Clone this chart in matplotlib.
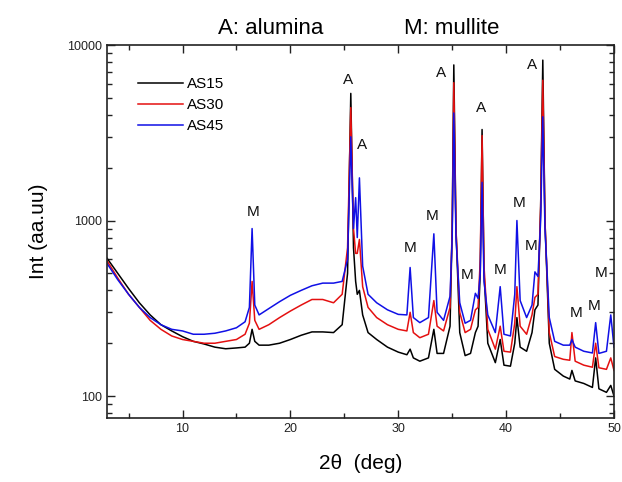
import matplotlib
matplotlib.use("Agg")
import matplotlib.pyplot as plt
from matplotlib.ticker import MultipleLocator, LogLocator, FixedLocator, FixedFormatter, NullFormatter

plt.rcParams['font.family'] = ['Liberation Sans', 'DejaVu Sans']

# 2-theta sampling positions (deg)
two_theta = [3.0, 4, 5, 6, 7, 8, 9, 10, 11, 12, 13, 14, 15, 15.8, 16.2, 16.45, 16.7, 17.1,
             18, 19, 20, 21, 22, 23, 24, 24.8, 25.3, 25.6, 25.85, 26.05, 26.2, 26.4, 26.7,
             27.2, 28, 29, 30, 30.8, 31.1, 31.4, 32, 32.8, 33.3, 33.6, 34.2, 34.8, 35.0,
             35.15, 35.35, 35.7, 36.2, 36.7, 37.15, 37.4, 37.6, 37.77, 37.95, 38.3, 39.0,
             39.45, 39.8, 40.4, 40.8, 41.0, 41.3, 41.9, 42.4, 42.67, 42.95, 43.2, 43.4,
             43.6, 44.0, 44.5, 45.3, 45.9, 46.1, 46.4, 47.2, 48.0, 48.3, 48.6, 49.3, 49.7, 50.0]

as15 = [610, 500, 410, 340, 290, 255, 235, 218, 205, 198, 190, 186, 188, 190, 200, 240, 205, 195,
        195, 200, 210, 222, 232, 232, 230, 255, 500, 5300, 700, 450, 380, 400, 290,
        230, 210, 190, 178, 172, 185, 165, 158, 165, 240, 175, 175, 250, 900,
        7700, 900, 230, 170, 175, 230, 250, 500, 3300, 500, 200, 155,
        210, 150, 148, 200, 280, 190, 180, 230, 310, 330, 1200, 8200,
        1000, 200, 142, 130, 125, 140, 122, 118, 112, 165, 110, 105, 115, 100]

as30 = [590, 470, 380, 320, 270, 240, 220, 210, 205, 200, 200, 205, 210, 225, 260, 450, 270, 240,
        255, 280, 305, 330, 355, 355, 340, 380, 700, 4400, 900, 650, 650, 780, 420,
        320, 280, 255, 240, 235, 300, 230, 215, 225, 350, 250, 235, 320, 900,
        6100, 900, 300, 230, 240, 310, 320, 600, 3050, 550, 240, 185,
        250, 180, 178, 260, 420, 250, 225, 290, 365, 380, 1200, 6300,
        1000, 230, 168, 162, 160, 230, 158, 150, 146, 200, 145, 142, 165, 140]

as45 = [570, 460, 380, 320, 280, 255, 240, 235, 225, 225, 228, 235, 245, 265, 320, 900, 330, 290,
        315, 345, 375, 400, 425, 440, 440, 450, 600, 3000, 900, 1350, 800, 1750, 550,
        380, 340, 310, 292, 290, 540, 280, 262, 280, 840, 300, 270, 370, 800,
        4100, 800, 340, 260, 270, 385, 360, 500, 1650, 450, 290, 230,
        420, 225, 220, 380, 1000, 350, 280, 330, 510, 480, 1000, 3900,
        900, 280, 205, 195, 195, 210, 190, 180, 176, 262, 175, 180, 290, 190]

series_names = ["AS15", "AS30", "AS45"]
series_colors = ["black", "#e41010", "#1010e6"]

# peak labels: (letter, 2theta, intensity)
label_text = ["A", "A", "A", "A", "A", "M", "M", "M", "M", "M", "M", "M", "M", "M", "M"]
label_x = [25.35, 26.6, 33.95, 37.66, 42.4, 16.53, 31.08, 33.1, 36.36, 39.42, 41.18, 42.3, 46.47, 48.13, 48.8]
label_y = [6320, 2690, 6930, 4375, 7694, 1122, 696, 1061, 488, 523, 1256, 716, 297, 325, 502]

x_ticks = [10, 20, 30, 40, 50]
y_ticks = [100, 1000, 10000]
y_ticklabels = ["100", "1000", "10000"]

fig = plt.figure(figsize=(6.22, 4.82), dpi=100)
ax = fig.add_axes([107/622, 64/482, 507/622, 373/482])

for ys, name, col in zip([as15, as30, as45], series_names, series_colors):
    ax.plot(two_theta, ys, color=col, lw=1.1, label=name)

for t, xx, yy in zip(label_text, label_x, label_y):
    ax.text(xx, yy, t, ha='center', va='center', fontsize=11, color='#111111')

ax.set_yscale('log')
ax.set_xlim(3, 50)
ax.set_ylim(75, 10000)

ax.xaxis.set_major_locator(FixedLocator(x_ticks))
ax.xaxis.set_minor_locator(MultipleLocator(5))
ax.yaxis.set_major_locator(FixedLocator(y_ticks))
ax.yaxis.set_major_formatter(FixedFormatter(y_ticklabels))
ax.yaxis.set_minor_locator(LogLocator(base=10, subs=range(2, 10)))
ax.yaxis.set_minor_formatter(NullFormatter())

ax.tick_params(which='both', direction='in', top=True, right=True, labelsize=9,
               colors='#222222', width=1.0)
ax.tick_params(which='major', length=6)
ax.tick_params(which='minor', length=3.5)
for s in ax.spines.values():
    s.set_linewidth(1.2)
    s.set_color('#222222')

ax.set_xlabel("2θ  (deg)", fontsize=15, labelpad=14)
ax.set_ylabel("Int (aa.uu)", fontsize=15, labelpad=14)

leg = ax.legend(loc='upper left', bbox_to_anchor=(0.035, 0.95), frameon=False,
                fontsize=11, handlelength=2.9, handletextpad=0.3, labelspacing=0.45)

fig.text(218/622, 1 - 34/482, "A: alumina", fontsize=16, ha='left', va='baseline')
fig.text(404/622, 1 - 34/482, "M: mullite", fontsize=16, ha='left', va='baseline')

fig.savefig("out.png", dpi=100)
